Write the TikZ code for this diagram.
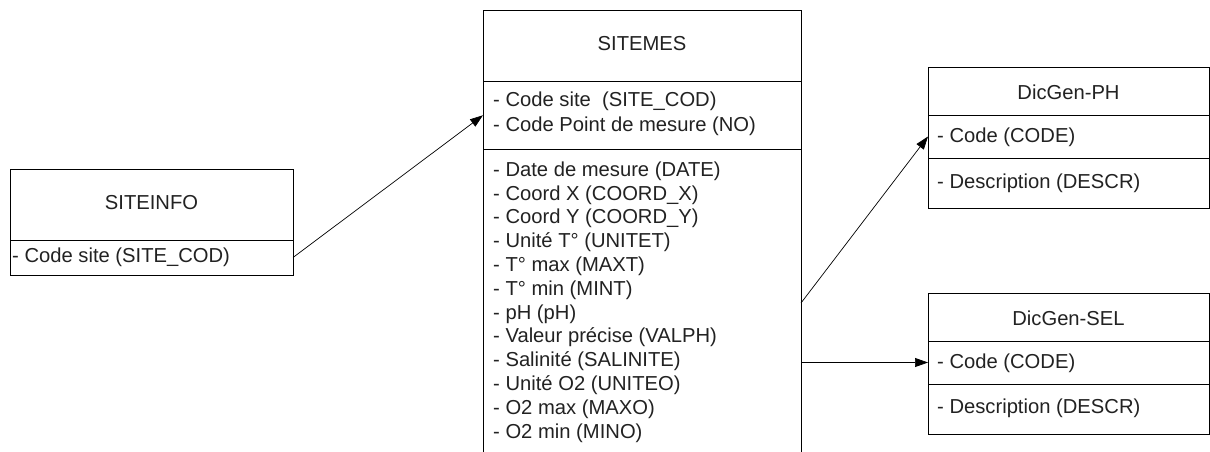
\documentclass[tikz,border=0pt]{standalone}
\usepackage{fontspec}
\setmainfont{Liberation Sans}
\usetikzlibrary{arrows.meta}
\definecolor{txt}{HTML}{222222}
\begin{document}
\begin{tikzpicture}[x=1pt,y=-1pt,
  box/.style={draw=black,line width=0.8pt,inner sep=0pt,outer sep=0pt,anchor=north west},
  lbl/.style={inner sep=0pt,text=txt,font=\fontsize{20.2}{24}\selectfont},
  conn/.style={draw=black,line width=0.7pt,-{Triangle[length=13pt,width=9pt]}},
  plain/.style={draw=black,line width=0.7pt}]
\clip (0,0) rectangle (1210,452);
\fill[white] (0,0) rectangle (1210,452);
% SITEINFO
\node[box,minimum width=283,minimum height=71] (siH) at (10,169) {};
\node[box,minimum width=283,minimum height=35] (siB) at (10,240) {};
\node[lbl] (siHt) at (151.5,203) {SITEINFO};
\node[lbl,anchor=west] (siB1) at (12,257) {- Code site (SITE\_COD)};
% SITEMES
\node[box,minimum width=318,minimum height=71] (smH) at (483,10) {};
\node[box,minimum width=318,minimum height=68.5] (smK) at (483,81) {};
\node[box,minimum width=318,minimum height=330] (smA) at (483,149.5) {};
\node[lbl] (smHt) at (642,44) {SITEMES};
\node[lbl,anchor=west] (smK1) at (493,101) {- Code site~~(SITE\_COD)};
\node[lbl,anchor=west] (smK2) at (493,126) {- Code Point de mesure (NO)};
\foreach \t [count=\i from 0] in {
  - Date de mesure (DATE),
  - Coord X (COORD\_X),
  - Coord Y (COORD\_Y),
  - Unité T° (UNITET),
  - T° max (MAXT),
  - T° min (MINT),
  - pH (pH),
  - Valeur précise (VALPH),
  - Salinité (SALINITE),
  - Unité O2 (UNITEO),
  - O2 max (MAXO),
  - O2 min (MINO)}
  \node[lbl,anchor=west] (smA\i) at (493,171+\i*23.8) {\t};
% DicGen-PH
\node[box,minimum width=281,minimum height=48] (phH) at (928,67) {};
\node[box,minimum width=281,minimum height=43] (phC) at (928,115) {};
\node[box,minimum width=281,minimum height=50] (phD) at (928,158) {};
\node[lbl] (phHt) at (1068.5,92) {DicGen-PH};
\node[lbl,anchor=west] (phC1) at (937,137) {- Code (CODE)};
\node[lbl,anchor=west] (phD1) at (937,183) {- Description (DESCR)};
% DicGen-SEL
\node[box,minimum width=281,minimum height=48] (seH) at (928,293) {};
\node[box,minimum width=281,minimum height=43] (seC) at (928,341) {};
\node[box,minimum width=281,minimum height=50] (seD) at (928,384) {};
\node[lbl] (seHt) at (1068.5,318) {DicGen-SEL};
\node[lbl,anchor=west] (seC1) at (937,363) {- Code (CODE)};
\node[lbl,anchor=west] (seD1) at (937,408) {- Description (DESCR)};
% connectors
\coordinate (o1) at (801,303);
\draw[conn] (siB.east) -- (smK.west);
\draw[conn] (o1) -- (phC.west);
\draw[conn] (smA.east |- seC.west) -- (seC.west);
\end{tikzpicture}
\end{document}
